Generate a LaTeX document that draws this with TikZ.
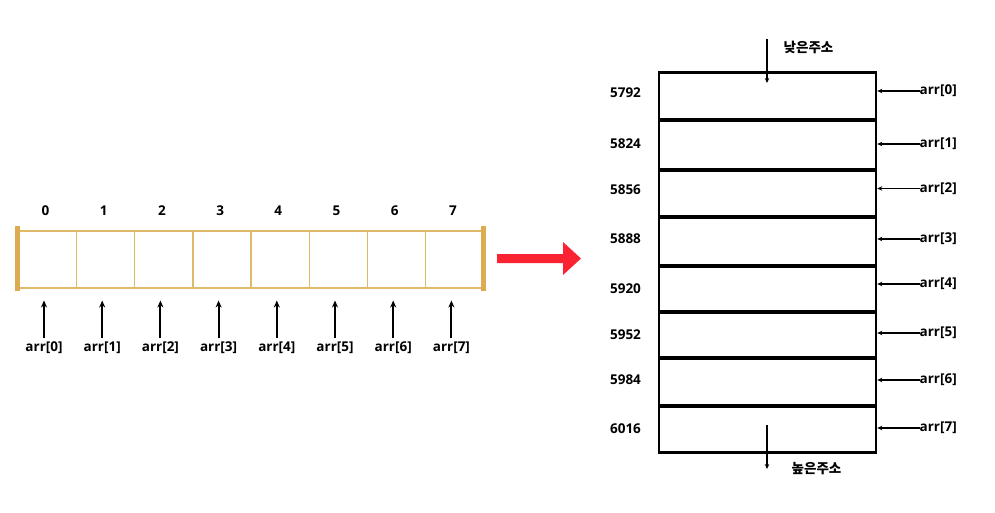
\documentclass[tikz,border=0pt]{standalone}
\usepackage{fontspec}
\setmainfont{Open Sans}
\newfontfamily\kr{Noto Sans CJK KR}
\usetikzlibrary{arrows.meta}
\definecolor{goldline}{RGB}{222,186,105}
\definecolor{goldbar}{RGB}{222,172,80}
\definecolor{redarrow}{RGB}{250,35,50}
\tikzset{
  cell/.style={draw=goldline,line width=1.5pt,minimum width=58.2pt,minimum height=57pt,inner sep=0pt,anchor=north west},
  goldend/.style={fill=goldbar,draw=none},
  lbl/.style={font=\bfseries\fontsize{13.5}{16}\selectfont,inner sep=0pt},
  krlbl/.style={font=\kr\bfseries\fontsize{13.5}{16}\selectfont,inner sep=0pt},
  upptr/.style={-{Stealth[length=7pt,width=6pt]},line width=2pt,shorten >=12pt},
  memrow/.style={draw,line width=2.8pt,minimum width=217pt,inner sep=0pt,anchor=north west},
  sideptr/.style={-{Stealth[length=5pt,width=4.5pt]},line width=1.2pt},
  vptr/.style={-{Stealth[length=5pt,width=4.5pt]},line width=1.2pt},
}
\begin{document}
\begin{tikzpicture}[x=1pt,y=-1pt]
\useasboundingbox (0,0) rectangle (995,513);
% left array
\foreach \i in {0,...,7}{
  \node[cell] (c\i) at ({17.5+58.2*\i},230) {};
  \node[lbl] (i\i) at ({45.5+58.2*\i},210.5) {\i};
  \node[lbl] (a\i) at ({44+58.2*\i},347.5) {arr[\i]};
  \draw[upptr] (a\i.north) ++(0,-3) coordinate (s\i) -- (s\i |- c\i.south);
}
\fill[goldend] (14.5,226) rectangle (19.5,291);
\fill[goldend] (481,226) rectangle (486,291);
% red arrow
\fill[redarrow] (497,254) -- (563,254) -- (563,242) -- (581,258.5) -- (563,275) -- (563,263) -- (497,263) -- cycle;
% memory
\def\ys{{70.5,118.5,168.5,216,264.5,310.5,356.5,404.5,451.5}}
\foreach \i/\addr/\ly/\ry in {0/5792/93/91,1/5824/144/144,2/5856/190/188.5,3/5888/239/239,4/5920/289/284,5/5952/335/333,6/5984/380/380,7/6016/429/428}{
  \pgfmathsetmacro\ytop{\ys[\i]}
  \pgfmathsetmacro\ybot{\ys[\i+1]}
  \node[memrow,minimum height={\ybot-\ytop-1.2}] (m\i) at (657.5,\ytop+0.6) {};
  \node[lbl] (n\i) at (625.5,\ly) {\addr};
  \node[lbl,anchor=west] (r\i) at (919.5,\ry) {arr[\i]};
  \draw[sideptr] (r\i.west) -- (r\i.west -| m\i.east);
}
\coordinate (t0) at (767,39);
\coordinate (t1) at (767,83);
\draw[vptr] (t0) -- (t1);
\node[krlbl] (low) at (808.5,47.5) {낮은주소};
\coordinate (b0) at (767,425);
\coordinate (b1) at (767,469);
\draw[vptr] (b0) -- (b1);
\node[krlbl] (high) at (816.5,468.5) {높은주소};
\end{tikzpicture}
\end{document}
